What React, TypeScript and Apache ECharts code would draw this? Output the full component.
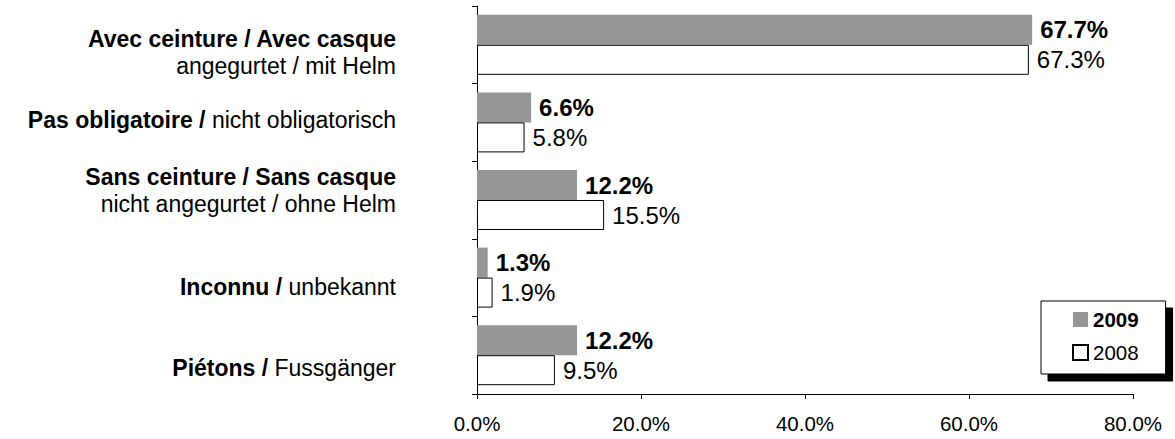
import React, { useEffect, useRef } from "react";
import * as echarts from "echarts";

const boldParts = [
  "Avec ceinture / Avec casque",
  "Pas obligatoire /",
  "Sans ceinture / Sans casque",
  "Inconnu /",
  "Piétons /",
];
const normalParts = [
  "angegurtet / mit Helm",
  "nicht obligatorisch",
  "nicht angegurtet / ohne Helm",
  "unbekannt",
  "Fussgänger",
];
const categories = boldParts.map((b, i) => b + " " + normalParts[i]);
const values2009 = [67.7, 6.6, 12.2, 1.3, 12.2];
const values2008 = [67.3, 5.8, 15.5, 1.9, 9.5];
const xTicks = [0, 20, 40, 60, 80];

// layout only
const twoLine = [true, false, true, false, false];
const labelShift = [8, -2, -10, 9, 13];

const FONT = "'Liberation Sans', Arial, Helvetica, sans-serif";

export default function App() {
  const ref = useRef<HTMLDivElement>(null);
  useEffect(() => {
    if (!ref.current) return;
    const chart = echarts.init(ref.current, null, { renderer: "svg" });
    const rich: any = {
      b: { fontFamily: FONT, fontWeight: "bold", fontSize: 23, lineHeight: 27, color: "#000" },
      n: { fontFamily: FONT, fontSize: 23, lineHeight: 27, color: "#000" },
    };
    labelShift.forEach((s, i) => {
      rich["sp" + i] = { fontSize: 1, lineHeight: Math.max(1, Math.abs(s) * 2) };
    });
    chart.setOption({
      animation: false,
      textStyle: { fontFamily: FONT, color: "#000" },
      grid: { left: 477, right: 42, top: 6, bottom: 45, containLabel: false },
      legend: {
        orient: "vertical",
        left: 1041,
        top: 301,
        itemWidth: 15,
        itemHeight: 15,
        itemGap: 12,
        padding: [8, 27, 11, 31],
        backgroundColor: "#fff",
        borderColor: "#000",
        borderWidth: 1,
        shadowColor: "#000",
        shadowBlur: 0,
        shadowOffsetX: 7,
        shadowOffsetY: 7,
        selectedMode: false,
        textStyle: { fontFamily: FONT, fontSize: 20.5, color: "#000" },
        data: [
          { name: "2009", icon: "rect", textStyle: { fontWeight: "bold" } },
          { name: "2008", icon: "rect" },
        ],
      },
      xAxis: {
        type: "value",
        min: xTicks[0],
        max: xTicks[xTicks.length - 1],
        interval: xTicks[1] - xTicks[0],
        splitLine: { show: false },
        axisLine: { show: true, lineStyle: { color: "#000", width: 1 } },
        axisTick: { show: true, length: 5, lineStyle: { color: "#000" } },
        axisLabel: {
          fontFamily: FONT,
          fontSize: 20.5,
          color: "#000",
          margin: 19,
          formatter: (v: number) => v.toFixed(1) + "%",
        },
      },
      yAxis: {
        type: "category",
        inverse: true,
        data: categories,
        axisLine: { show: true, lineStyle: { color: "#000", width: 1 } },
        axisTick: { show: true, length: 5, lineStyle: { color: "#000" } },
        axisLabel: {
          margin: 81,
          align: "right",
          rich,
          formatter: (_v: string, i: number) => {
            const s = labelShift[i];
            const main = twoLine[i]
              ? `{b|${boldParts[i]}}\n{n|${normalParts[i]}}`
              : `{b|${boldParts[i]}}{n| ${normalParts[i]}}`;
            if (s > 0) return `{sp${i}| }\n` + main;
            if (s < 0) return main + `\n{sp${i}| }`;
            return main;
          },
        },
      },
      series: [
        {
          name: "2009",
          type: "bar",
          data: values2009,
          barWidth: 30,
          barGap: "0%",
          itemStyle: { color: "#969696" },
          label: {
            show: true,
            position: "right",
            distance: 8,
            fontFamily: FONT,
            fontSize: 24,
            fontWeight: "bold",
            color: "#000",
            formatter: (p: any) => Number(p.value).toFixed(1) + "%",
          },
        },
        {
          name: "2008",
          type: "bar",
          data: values2008,
          barWidth: 30,
          barGap: "0%",
          itemStyle: { color: "#fff", borderColor: "#000", borderWidth: 1 },
          label: {
            show: true,
            position: "right",
            distance: 8,
            fontFamily: FONT,
            fontSize: 24,
            color: "#000",
            formatter: (p: any) => Number(p.value).toFixed(1) + "%",
          },
        },
      ],
    });
    return () => chart.dispose();
  }, []);
  return (
    <div
      ref={ref}
      style={{ position: "absolute", left: 0, top: 0, width: 1175, height: 439, background: "#fff" }}
    />
  );
}
